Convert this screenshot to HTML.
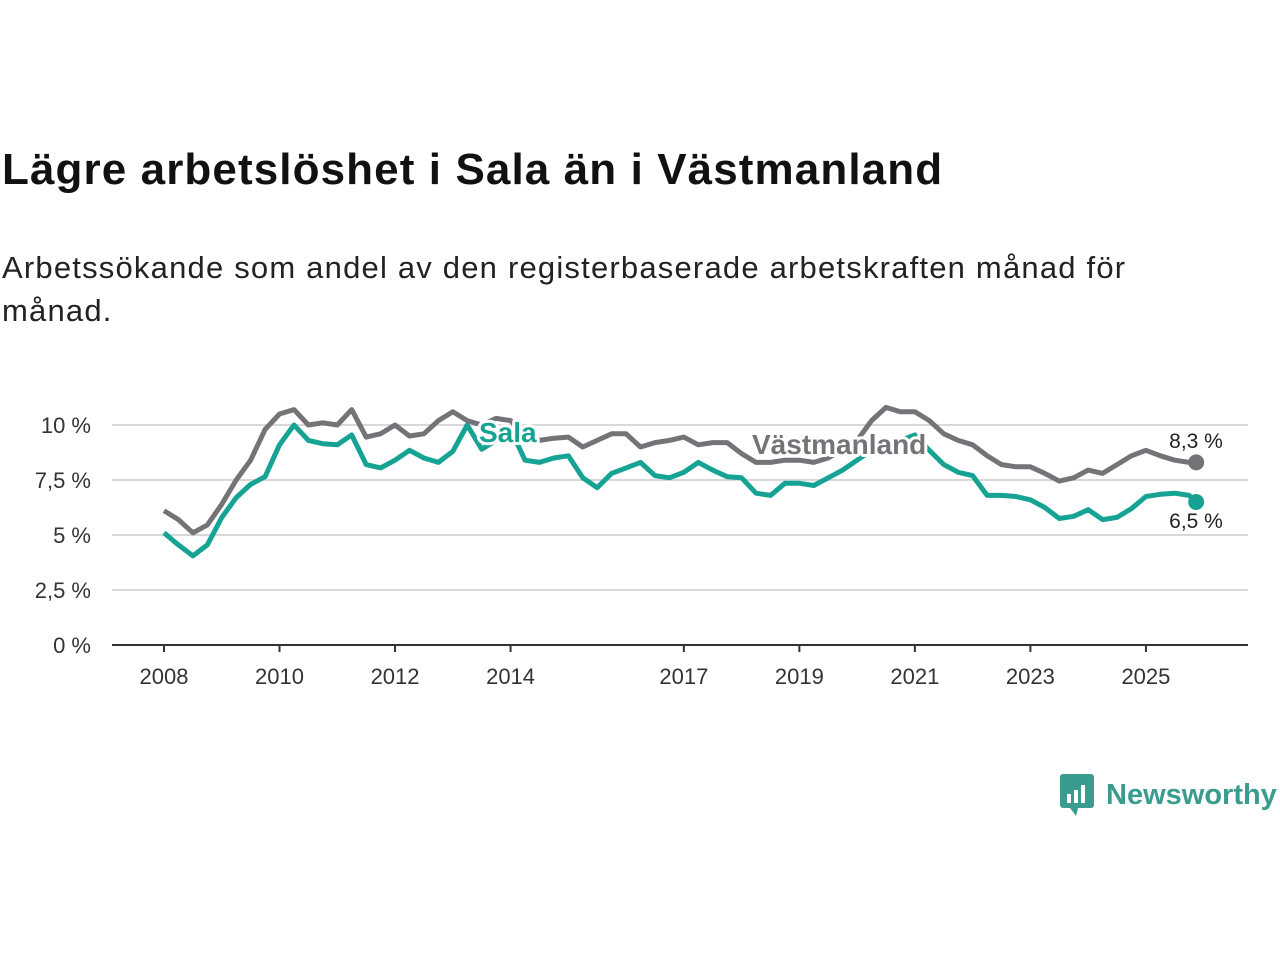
<!DOCTYPE html>
<html><head><meta charset="utf-8"><style>
body{margin:0;width:1280px;height:960px;background:#fff;font-family:"Liberation Sans",sans-serif;overflow:hidden;position:relative}
h1{position:absolute;left:2px;top:145px;margin:0;font-size:44px;letter-spacing:1.1px;font-weight:bold;color:#111;white-space:nowrap}
p{position:absolute;left:2px;top:246px;margin:0;font-size:31px;letter-spacing:1.2px;line-height:43px;color:#222;width:1200px}
</style></head><body>
<h1>Lägre arbetslöshet i Sala än i Västmanland</h1>
<p>Arbetssökande som andel av den registerbaserade arbetskraften månad för månad.</p>
<svg id="chart" width="1280" height="960" style="position:absolute;left:0;top:0"></svg>
<div style="position:absolute;left:1060px;top:774px;display:flex;align-items:center">
<svg width="34" height="42"><rect x="0" y="0" width="34" height="34" rx="3" fill="#3a9c8f"/><path d="M10 34 L16 42 L18 34Z" fill="#3a9c8f"/><rect x="7" y="20" width="4" height="9" fill="#fff"/><rect x="14" y="16" width="4" height="13" fill="#fff"/><rect x="21" y="11" width="4" height="18" fill="#fff"/></svg>
<span style="margin-left:12px;font-size:29px;color:#3a9c8f;font-weight:bold">Newsworthy</span></div>
<script>
const years=[2008,2010,2012,2014,2017,2019,2021,2023,2025];
const yTicks=[0,2.5,5,7.5,10];
const yTickLabels=["0 %","2,5 %","5 %","7,5 %","10 %"];
const startYear=2008;
const vastmanland=[6.1,5.7,5.1,5.45,6.4,7.5,8.4,9.8,10.5,10.7,10.0,10.1,10.0,10.7,9.45,9.6,10.0,9.5,9.6,10.2,10.6,10.2,10.0,10.3,10.2,9.5,9.3,9.4,9.45,9.0,9.3,9.6,9.6,9.0,9.2,9.3,9.45,9.1,9.2,9.2,8.7,8.3,8.3,8.4,8.4,8.3,8.5,8.9,9.3,10.2,10.8,10.6,10.6,10.2,9.6,9.3,9.1,8.6,8.2,8.1,8.1,7.8,7.45,7.6,7.95,7.8,8.2,8.6,8.85,8.6,8.4,8.3,8.3];
const sala=[5.1,4.55,4.05,4.55,5.8,6.7,7.3,7.65,9.1,10.0,9.3,9.15,9.1,9.55,8.2,8.05,8.4,8.85,8.5,8.3,8.8,10.0,8.9,9.3,9.8,8.4,8.3,8.5,8.6,7.6,7.15,7.8,8.05,8.3,7.7,7.6,7.85,8.3,7.95,7.65,7.6,6.9,6.8,7.35,7.35,7.25,7.6,7.95,8.4,8.85,9.0,9.3,9.55,8.85,8.2,7.85,7.7,6.8,6.8,6.75,6.6,6.25,5.75,5.85,6.15,5.7,5.8,6.2,6.75,6.85,6.9,6.8,6.5];
const x=t=>164+(t-startYear)*57.76, y=v=>645-v*22;
const svg=document.getElementById('chart'),NS="http://www.w3.org/2000/svg";
function mk(tag,at,txt){const e=document.createElementNS(NS,tag);for(const k in at)e.setAttribute(k,at[k]);if(txt!=null)e.textContent=txt;svg.appendChild(e);return e;}
const tOf=i=>startYear+(i===vastmanland.length-1?17.87:i*0.25);
yTicks.forEach((v,i)=>{
 if(v>0){const g=mk('line',{x1:112,x2:1248,y1:y(v),y2:y(v),stroke:'#d8d8d8','stroke-width':2});}
 const t=mk('text',{x:91,y:y(v)+8,'text-anchor':'end','font-size':22,fill:'#333','font-family':'Liberation Sans'},yTickLabels[i]);
 
});
const ax=mk('line',{x1:112,x2:1248,y1:645,y2:645,stroke:'#333','stroke-width':2});

years.forEach(yr=>{
 const tk=mk('line',{x1:x(yr),x2:x(yr),y1:645,y2:652,stroke:'#333','stroke-width':2});
 
 const t=mk('text',{x:x(yr),y:684,'text-anchor':'middle','font-size':22,fill:'#333','font-family':'Liberation Sans'},String(yr));
 
});
function line(data,col,name){
 const d=data.map((v,i)=>(i?'L':'M')+x(tOf(i)).toFixed(1)+' '+y(v).toFixed(1)).join(' ');
 const p=mk('path',{d:d,fill:'none',stroke:col,'stroke-width':5,'stroke-linejoin':'round'});
 
 const n=data.length-1;
 const c=mk('circle',{cx:x(tOf(n)),cy:y(data[n]),r:8,fill:col});
 
}
line(vastmanland,'#747378','vastmanland-line');
line(sala,'#17a394','sala-line');
function lbl(tx,xx,yy,col,sz,bold,name){
 const t=mk('text',{x:xx,y:yy,'font-size':sz,'font-weight':bold?'bold':'normal',fill:col,stroke:'#fff','stroke-width':6,'paint-order':'stroke','stroke-linejoin':'round','font-family':'Liberation Sans','text-anchor':bold?'start':'middle'},tx);
 
}
lbl('Sala',479,442,'#17a394',28,true,'sala-label');
lbl('Västmanland',752,454,'#747378',28,true,'vastmanland-label');
lbl('8,3 %',1196,448,'#222',21,false,'vastmanland-value');
lbl('6,5 %',1196,528,'#222',21,false,'sala-value');
</script>
</body></html>
